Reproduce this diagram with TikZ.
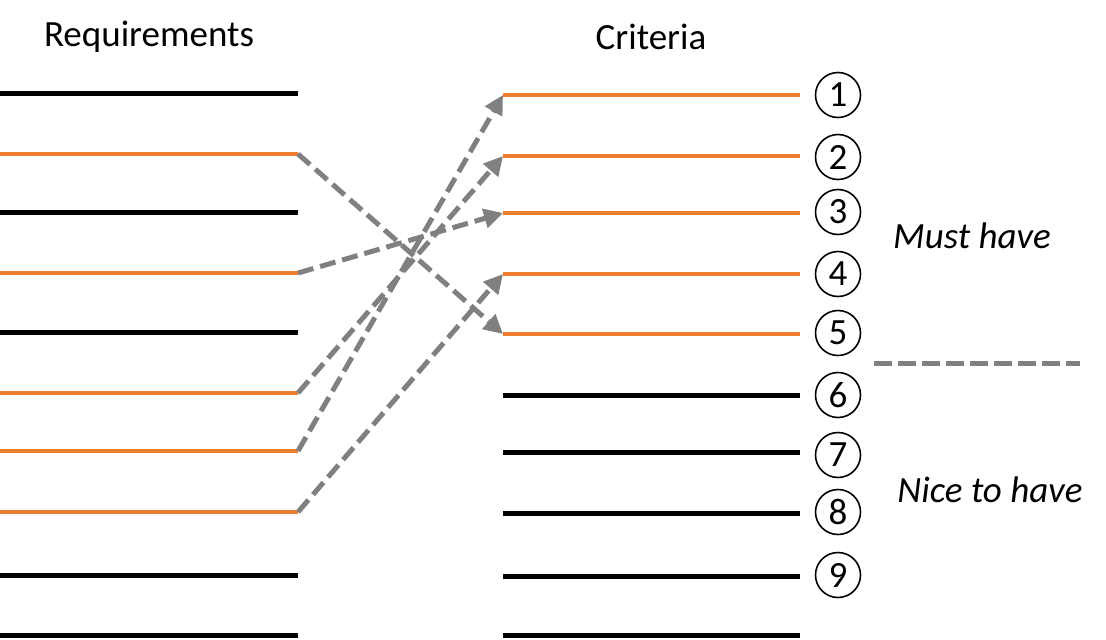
\documentclass[tikz,border=0pt]{standalone}
\usepackage{fontspec}
\setmainfont{Carlito}
\usetikzlibrary{arrows.meta}
\definecolor{reqorange}{RGB}{237,125,49}
\definecolor{linkgray}{RGB}{128,128,128}

\begin{document}
\begin{tikzpicture}[x=1pt,y=-1pt,
  blackline/.style={line width=5pt,black},
  orangeline/.style={line width=4.5pt,reqorange},
  link/.style={line width=5pt,linkgray,dash pattern=on 16pt off 7pt,-{Triangle[length=19pt,width=19pt]}},
  num/.style={circle,draw,line width=1.6pt,minimum size=45pt,inner sep=0pt,font=\fontsize{37}{37}\selectfont},
  lbl/.style={font=\fontsize{37}{40}\selectfont}]
\useasboundingbox (0,0) rectangle (1106,640);
% requirements
\foreach \y/\s [count=\i] in {93/blackline,154/orangeline,212/blackline,273/orangeline,332/blackline,393/orangeline,451/orangeline,512/orangeline,575/blackline,635/blackline}
  \draw[\s] (0,\y) -- (298,\y) coordinate (r\i);
% criteria
\foreach \y/\s [count=\i] in {95/orangeline,156/orangeline,213/orangeline,274/orangeline,334/orangeline,395/blackline,452/blackline,513/blackline,576/blackline,635/blackline}
  \draw[\s] (503,\y) coordinate (c\i) -- (800,\y);
\foreach \y [count=\i] in {95,157,212,274,333,395,455,512,575}
  \node[num] (n\i) at (838,\y) {\i};
% links
\draw[link] (r2) -- (c5);
\draw[link] (r4) -- (c3);
\draw[link] (r6) -- (c2);
\draw[link] (r7) -- (c1);
\draw[link] (r8) -- (c4);
% separator
\draw[line width=5pt,linkgray,dash pattern=on 18pt off 6pt] (874,363) -- (1080,363);
% labels
\node[lbl] (req) at (149,37) {Requirements};
\node[lbl] (crit) at (651,37) {Criteria};
\node[lbl] (must) at (972,236) {\itshape Must have};
\node[lbl] (nice) at (990,490) {\itshape Nice to have};
\end{tikzpicture}
\end{document}
